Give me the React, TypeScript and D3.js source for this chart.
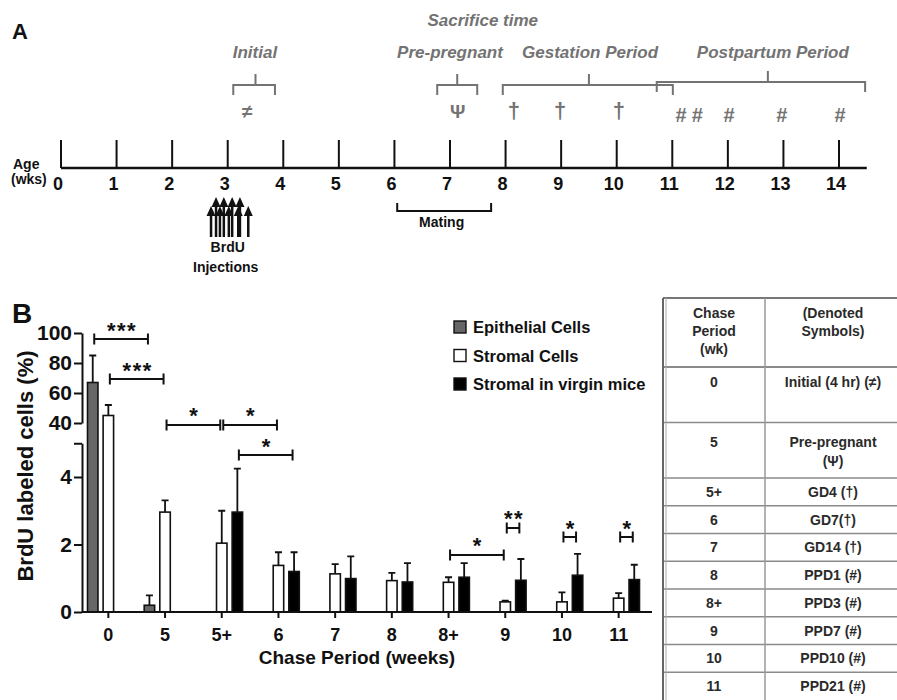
import React, { useEffect, useRef } from "react";
import * as d3 from "d3";

const FONT = "'Liberation Sans', Arial, Helvetica, sans-serif";
const INK = "#111";
const GREY = "#737373";

// ---------- panel A: timeline ----------
const ageWeeks = [0, 1, 2, 3, 4, 5, 6, 7, 8, 9, 10, 11, 12, 13, 14];

const periods = [
  { label: "Initial", start: 3.1, end: 3.85, stem: 3.5, labelAt: 3.49 },
  { label: "Pre-pregnant", start: 6.77, end: 7.49, stem: 7.13, labelAt: 7.0 },
  { label: "Gestation Period", start: 7.95, end: 11.01, stem: 9.5, labelAt: 9.52 },
  { label: "Postpartum Period", start: 10.72, end: 14.47, stem: 12.72, labelAt: 12.81 },
];
const sacrificeAt = 7.59;

const sacrificeSymbols = [
  { sym: "≠", week: 3.35 },
  { sym: "Ψ", week: 7.14 },
  { sym: "†", week: 8.15 },
  { sym: "†", week: 8.98 },
  { sym: "†", week: 10.04 },
  { sym: "#", week: 11.16 },
  { sym: "#", week: 11.45 },
  { sym: "#", week: 12.02 },
  { sym: "#", week: 12.97 },
  { sym: "#", week: 14.02 },
];

// BrdU injections (two staggered rows of arrows)
const injectionsTall = [2.79, 2.93, 3.08, 3.22];
const injectionsShort = [2.7, 2.86, 3.02, 3.19, 3.37];
const mating = { start: 6.05, end: 7.74, labelAt: 6.85 };

// ---------- panel B: bars ----------
const categories = ["0", "5", "5+", "6", "7", "8", "8+", "9", "10", "11"];
const series = [
  { key: "epi", label: "Epithelial Cells", fill: "#666" },
  { key: "stromal", label: "Stromal Cells", fill: "#fff" },
  { key: "virgin", label: "Stromal in virgin mice", fill: "#000" },
];
const epithelial = [67, 0.2, null, null, null, null, null, null, null, null];
const epithelialErr = [18, 0.29, null, null, null, null, null, null, null, null];
const stromal = [45, 2.96, 2.04, 1.38, 1.13, 0.93, 0.88, 0.3, 0.3, 0.41];
const stromalErr = [7, 0.35, 0.96, 0.39, 0.29, 0.23, 0.15, 0.04, 0.28, 0.15];
const virgin = [null, null, 2.96, 1.2, 0.99, 0.89, 1.03, 0.94, 1.09, 0.96];
const virginErr = [null, null, 1.29, 0.57, 0.66, 0.56, 0.42, 0.63, 0.63, 0.44];

const lowTicks = [0, 2, 4];
const highTicks = [40, 60, 80, 100];

const sigBrackets = [
  { from: ["0", "epi"], to: ["5", "epi"], level: 96, label: "***" },
  { from: ["0", "stromal"], to: ["5", "stromal"], level: 69.3, label: "***" },
  { from: ["5", "stromal"], to: ["5+", "stromal"], level: 38.7, label: "*" },
  { from: ["5+", "stromal"], to: ["6", "stromal"], level: 38.7, label: "*" },
  { from: ["5+", "virgin"], to: ["6", "virgin"], level: 4.65, label: "*" },
  { from: ["8+", "stromal"], to: ["9", "stromal"], level: 1.69, label: "*" },
  { from: ["9", "stromal"], to: ["9", "virgin"], level: 2.49, label: "**" },
  { from: ["10", "stromal"], to: ["10", "virgin"], level: 2.22, label: "*" },
  { from: ["11", "stromal"], to: ["11", "virgin"], level: 2.22, label: "*" },
];

// ---------- table ----------
const tableHeader = [["Chase", "Period", "(wk)"], ["(Denoted", "Symbols)"]];
const denoted = [
  ["Initial (4 hr) (≠)"],
  ["Pre-pregnant", "(Ψ)"],
  ["GD4 (†)"],
  ["GD7(†)"],
  ["GD14 (†)"],
  ["PPD1 (#)"],
  ["PPD3 (#)"],
  ["PPD7 (#)"],
  ["PPD10 (#)"],
  ["PPD21 (#)"],
];

export default function App() {
  const ref = useRef<SVGSVGElement>(null);

  useEffect(() => {
    const svg = d3.select(ref.current);
    svg.selectAll("*").remove();
    svg.attr("font-family", FONT);

    const label = (g: any, x: number, y: number, s: string, size: number, extra: any = {}) => {
      const t = g
        .append("text")
        .attr("x", x)
        .attr("y", y)
        .attr("font-size", size)
        .attr("font-weight", "bold")
        .attr("fill", extra.fill || INK)
        .attr("text-anchor", extra.anchor || "middle")
        .text(s);
      if (extra.italic) t.attr("font-style", "italic");
      return t;
    };

    // ================= A =================
    const A = svg.append("g");
    label(A, 12, 39, "A", 22, { anchor: "start" });

    const t = d3.scaleLinear().domain([0, 14]).range([61, 839]);

    A.append("line")
      .attr("x1", t(0))
      .attr("x2", t(14.5))
      .attr("y1", 168)
      .attr("y2", 168)
      .attr("stroke", INK)
      .attr("stroke-width", 2.5);

    A.selectAll(".wk")
      .data(ageWeeks)
      .enter()
      .append("line")
      .attr("x1", (d) => t(d))
      .attr("x2", (d) => t(d))
      .attr("y1", 140)
      .attr("y2", 168)
      .attr("stroke", INK)
      .attr("stroke-width", 2);

    ageWeeks.forEach((w) => label(A, t(w) - 3, 190, String(w), 18));
    label(A, 13, 169, "Age", 14, { anchor: "start" });
    label(A, 11, 184, "(wks)", 14, { anchor: "start" });

    // period brackets
    periods.forEach((p) => {
      const y0 = p.label === "Postpartum Period" ? 82 : 85;
      A.append("path")
        .attr(
          "d",
          `M${t(p.start)},${y0 + 10}V${y0}H${t(p.end)}V${y0 + 10}M${t(p.stem)},${y0}V${y0 - 11}`
        )
        .attr("fill", "none")
        .attr("stroke", GREY)
        .attr("stroke-width", 2);
      label(A, t(p.labelAt), 58, p.label, 17, { fill: GREY, italic: true });
    });
    label(A, t(sacrificeAt), 26, "Sacrifice time", 17, { fill: GREY, italic: true });

    sacrificeSymbols.forEach((s) => {
      const size = s.sym === "#" ? 20 : s.sym === "†" ? 22 : 19;
      const base = s.sym === "#" ? 122 : 118;
      label(A, t(s.week), base, s.sym, size, { fill: GREY });
    });

    // injection arrows
    const arrow = (w: number, tip: number) => {
      const xx = t(w);
      A.append("line")
        .attr("x1", xx)
        .attr("x2", xx)
        .attr("y1", tip + 7)
        .attr("y2", 237)
        .attr("stroke", INK)
        .attr("stroke-width", 2.5);
      A.append("path")
        .attr("d", `M${xx - 4.5},${tip + 10}L${xx},${tip}L${xx + 4.5},${tip + 10}Z`)
        .attr("fill", INK);
    };
    injectionsShort.forEach((w) => arrow(w, 206));
    injectionsTall.forEach((w) => arrow(w, 197));
    label(A, t(3), 252, "BrdU", 14);
    label(A, t(3) - 2, 272, "Injections", 14);

    A.append("path")
      .attr("d", `M${t(mating.start)},203V211H${t(mating.end)}V203`)
      .attr("fill", "none")
      .attr("stroke", INK)
      .attr("stroke-width", 2);
    label(A, t(mating.labelAt), 227, "Mating", 14);

    // ================= B =================
    const B = svg.append("g");
    label(B, 12, 323, "B", 28, { anchor: "start" });

    const x = d3.scaleBand().domain(categories).range([80, 647]);
    const sub = d3
      .scaleBand()
      .domain(series.map((s) => s.key))
      .range([-23.5, 23.5])
      .paddingInner(0.33)
      .paddingOuter(0.17);
    const yLow = d3.scaleLinear().domain([0, 5]).range([612, 443.25]);
    const yHigh = d3.scaleLinear().domain([40, 100]).range([423, 333]);
    const y = (v: number) => (v <= 5 ? yLow(v) : yHigh(v));
    const cx = (cat: string, key: string) =>
      (x(cat) as number) + x.bandwidth() / 2 + (sub(key) as number) + sub.bandwidth() / 2;

    const values: Record<string, (number | null)[]> = {
      epi: epithelial,
      stromal: stromal,
      virgin: virgin,
    };
    const errors: Record<string, (number | null)[]> = {
      epi: epithelialErr,
      stromal: stromalErr,
      virgin: virginErr,
    };

    series.forEach((s) => {
      const rows = categories
        .map((c, i) => ({ c, v: values[s.key][i], e: errors[s.key][i] }))
        .filter((d) => d.v != null) as { c: string; v: number; e: number }[];

      const g = B.append("g");
      // error bars (up only)
      g.selectAll("path")
        .data(rows)
        .enter()
        .append("path")
        .attr("d", (d) => {
          const xx = cx(d.c, s.key);
          const top = y(d.v + d.e);
          return `M${xx},${y(d.v)}V${top}M${xx - 3.5},${top}H${xx + 3.5}`;
        })
        .attr("fill", "none")
        .attr("stroke", INK)
        .attr("stroke-width", 1.8);

      g.selectAll("rect")
        .data(rows)
        .enter()
        .append("rect")
        .attr("x", (d) => cx(d.c, s.key) - sub.bandwidth() / 2)
        .attr("y", (d) => y(d.v))
        .attr("width", sub.bandwidth())
        .attr("height", (d) => y(0) - y(d.v))
        .attr("fill", s.fill)
        .attr("stroke", INK)
        .attr("stroke-width", 1.6);
    });

    const styleAxis = (g: any) => {
      g.selectAll("path,line").attr("stroke", INK).attr("stroke-width", 2);
      g.selectAll("text")
        .attr("font-family", FONT)
        .attr("font-weight", "bold")
        .attr("fill", INK);
    };

    // broken y axis
    const gLow = B.append("g")
      .attr("transform", "translate(82,0)")
      .call(
        d3
          .axisLeft(yLow)
          .tickValues([...lowTicks, 5])
          .tickFormat((d: any) => (lowTicks.includes(d) ? String(d) : ""))
          .tickSize(8)
          .tickPadding(2)
          .tickSizeOuter(0)
      );
    styleAxis(gLow);
    gLow.selectAll("text").attr("font-size", 21);

    const gHigh = B.append("g")
      .attr("transform", "translate(82,0)")
      .call(d3.axisLeft(yHigh).tickValues(highTicks).tickSize(8).tickPadding(2).tickSizeOuter(0));
    styleAxis(gHigh);
    gHigh.selectAll("text").attr("font-size", 21);

    // x axis
    const gx = B.append("g")
      .attr("transform", "translate(0,612)")
      .call(d3.axisBottom(x).tickSize(6).tickPadding(10).tickSizeOuter(0));
    gx.select(".domain").remove();
    styleAxis(gx);
    gx.selectAll("text").attr("font-size", 18);
    B.append("line")
      .attr("x1", 82)
      .attr("x2", 652)
      .attr("y1", 612)
      .attr("y2", 612)
      .attr("stroke", INK)
      .attr("stroke-width", 2);

    label(B, 357, 664, "Chase Period (weeks)", 19);
    label(B, 0, 0, "BrdU labeled cells (%)", 22).attr(
      "transform",
      "translate(33,466) rotate(-90)"
    );

    // significance brackets
    sigBrackets.forEach((b) => {
      const x1 = cx(b.from[0], b.from[1]) + 1.5;
      const x2 = cx(b.to[0], b.to[1]) - 1.5;
      const yy = y(b.level);
      B.append("path")
        .attr("d", `M${x1},${yy - 5.5}V${yy + 5.5}M${x1},${yy}H${x2}M${x2},${yy - 5.5}V${yy + 5.5}`)
        .attr("fill", "none")
        .attr("stroke", INK)
        .attr("stroke-width", 2);
      label(B, (x1 + x2) / 2 + 1, yy - 1.5, b.label, 22).attr("letter-spacing", 1.5);
    });

    // legend
    const lg = B.append("g").attr("transform", "translate(454,327)");
    series.forEach((s, i) => {
      const row = lg.append("g").attr("transform", `translate(0,${i * 28.5})`);
      row.append("rect")
        .attr("x", 0)
        .attr("y", -6)
        .attr("width", 12)
        .attr("height", 12)
        .attr("fill", s.fill)
        .attr("stroke", INK)
        .attr("stroke-width", 1.4);
      label(row, 19, 6, s.label, 16.5, { anchor: "start" });
    });

    // ================= table =================
    const T = svg.append("g");
    const left = 663;
    const mid = 765;
    const right = 897;
    const top = 298;
    const headBottom = 367;
    const lineH = 27.75;
    const c1 = (left + mid) / 2;
    const c2 = 833;
    const TXT = "#2a2a2a";
    const fs = 14;

    const edges = [headBottom];
    const rowLines = [2, 2, 1, 1, 1, 1, 1, 1, 1, 1];
    rowLines.forEach((n) => edges.push(edges[edges.length - 1] + n * lineH));

    T.append("line").attr("x1", left).attr("x2", right).attr("y1", top).attr("y2", top)
      .attr("stroke", "#777").attr("stroke-width", 2);
    edges.slice(0, -1).forEach((e, i) =>
      T.append("line").attr("x1", left).attr("x2", right).attr("y1", e).attr("y2", e)
        .attr("stroke", "#8a8a8a").attr("stroke-width", i === 0 ? 2 : 1.5)
    );
    T.append("line").attr("x1", left).attr("x2", left).attr("y1", top).attr("y2", 700)
      .attr("stroke", "#666").attr("stroke-width", 2);
    T.append("line").attr("x1", left + 3).attr("x2", left + 3).attr("y1", top).attr("y2", 700)
      .attr("stroke", "#aaa").attr("stroke-width", 1);
    T.append("line").attr("x1", mid).attr("x2", mid).attr("y1", top).attr("y2", 700)
      .attr("stroke", "#999").attr("stroke-width", 1.5);

    tableHeader[0].forEach((s, i) => label(T, c1, 318 + i * 18, s, fs, { fill: TXT }));
    tableHeader[1].forEach((s, i) => label(T, c2, 318 + i * 18, s, fs, { fill: TXT }));

    categories.forEach((c, i) => {
      const y0 = edges[i];
      const y1 = edges[i + 1];
      const lines = denoted[i];
      let base: number;
      if (i === 0) base = y0 + 20;
      else if (lines.length > 1) base = (y0 + y1) / 2 - 3;
      else base = (y0 + y1) / 2 + 5;
      label(T, c1, base, c, fs, { fill: TXT });
      lines.forEach((s, j) => label(T, c2, base + j * 19, s, fs, { fill: TXT }));
    });
  }, []);

  return (
    <div style={{ position: "absolute", left: 0, top: 0, width: 897, height: 700, background: "#fff" }}>
      <svg ref={ref} width={897} height={700} />
    </div>
  );
}
